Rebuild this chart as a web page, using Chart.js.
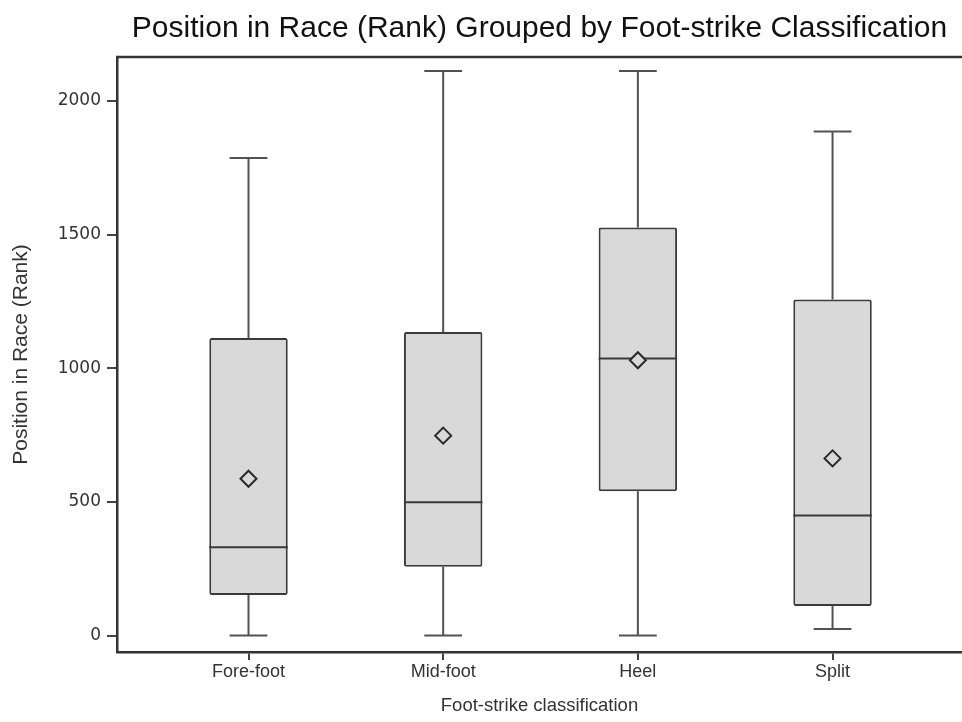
<!DOCTYPE html>
<html>
<head>
<meta charset="utf-8">
<script src="https://cdn.jsdelivr.net/npm/chart.js@4/dist/chart.umd.min.js"></script>
<style>
html,body{margin:0;padding:0;background:#fff;overflow:hidden}
#wrap{width:962px;height:722px;position:relative}
</style>
</head>
<body>
<div id="wrap"><canvas id="c"></canvas></div>
<script>
// ---- data ----
const categories = ['Fore-foot', 'Mid-foot', 'Heel', 'Split'];
const minVals    = [1, 1, 1, 25];
const q1Vals     = [152, 258, 540, 111];
const medianVals = [331, 499, 1037, 449];
const q3Vals     = [1113, 1136, 1526, 1257];
const maxVals    = [1786, 2112, 2112, 1885];
const meanVals   = [587, 748, 1030, 663];
const yTicks     = [0, 500, 1000, 1500, 2000];

const titleText  = 'Position in Race (Rank) Grouped by Foot-strike Classification';
const xTitleText = 'Foot-strike classification';
const yTitleText = 'Position in Race (Rank)';

// ---- styles ----
const BOX_W = 0.403;       // box width in category units
const CAP_HALF = 0.097;    // half width of whisker caps
const BOX_FILL = '#d9d9d9';
const BOX_EDGE = '#3a3a3a';
const WHISK = '#525252';
const AXIS = '#333333';
const SANS = '"Liberation Sans", Arial, sans-serif';

const positions = categories.map((_, i) => i + 1);

function segs(fn) {
  const out = [];
  positions.forEach((x, i) => {
    fn(x, i).forEach(p => out.push(p));
    out.push({x: x, y: null});
  });
  return out;
}

const whiskerData = segs((x, i) => [{x, y: q1Vals[i]}, {x, y: minVals[i]}, {x, y: null}, {x, y: q3Vals[i]}, {x, y: maxVals[i]}]);
const capData = segs((x, i) => [{x: x - CAP_HALF, y: minVals[i]}, {x: x + CAP_HALF, y: minVals[i]}, {x, y: null},
                                {x: x - CAP_HALF, y: maxVals[i]}, {x: x + CAP_HALF, y: maxVals[i]}]);
const medianData = segs((x, i) => [{x: x - BOX_W / 2, y: medianVals[i]}, {x: x + BOX_W / 2, y: medianVals[i]}]);

const frameTop = {
  id: 'frameTop',
  afterDraw(chart) {
    const {ctx, chartArea: a} = chart;
    ctx.save();
    ctx.strokeStyle = AXIS;
    ctx.lineWidth = 2.5;
    ctx.beginPath();
    ctx.moveTo(a.left - 1, a.top);
    ctx.lineTo(chart.width, a.top);
    ctx.stroke();
    ctx.restore();
  }
};

new Chart(document.getElementById('c'), {
  type: 'bar',
  data: {
    datasets: [
      {
        type: 'line', label: 'whiskers', data: whiskerData,
        borderColor: WHISK, borderWidth: 2, pointRadius: 0, spanGaps: false, order: 4
      },
      {
        type: 'line', label: 'caps', data: capData,
        borderColor: WHISK, borderWidth: 2, pointRadius: 0, spanGaps: false, order: 4
      },
      {
        type: 'bar', label: 'box',
        data: positions.map((x, i) => ({x, y: [q1Vals[i], q3Vals[i]]})),
        backgroundColor: BOX_FILL, borderColor: BOX_EDGE, borderWidth: 2,
        borderSkipped: false, borderRadius: 2,
        barPercentage: BOX_W, categoryPercentage: 1, grouped: false, order: 2
      },
      {
        type: 'line', label: 'median', data: medianData,
        borderColor: BOX_EDGE, borderWidth: 2, pointRadius: 0, spanGaps: false, order: 1
      },
      {
        type: 'line', label: 'mean',
        data: positions.map((x, i) => ({x, y: meanVals[i]})),
        showLine: false, pointStyle: 'rectRot', pointRadius: 8,
        pointBackgroundColor: BOX_FILL, pointBorderColor: '#2a2a2a', pointBorderWidth: 2, order: 0
      }
    ]
  },
  options: {
    responsive: true,
    maintainAspectRatio: false,
    devicePixelRatio: 1,
    animation: false,
    events: [],
    layout: {padding: 0, autoPadding: false},
    plugins: {
      legend: {display: false},
      tooltip: {enabled: false},
      title: {
        display: true, text: titleText, fullSize: false,
        color: '#111', font: {family: SANS, size: 30, weight: 'normal', lineHeight: 1.2},
        padding: {top: 11, bottom: 10}
      }
    },
    scales: {
      x: {
        type: 'linear', min: 0.3245, max: 4.665, offset: false,
        afterBuildTicks: s => { s.ticks = positions.map(v => ({value: v})); },
        afterFit: s => { s.height = 70; s.paddingLeft = 0; s.paddingRight = 0; },
        ticks: {
          callback: (v, i) => categories[i],
          color: '#333', font: {family: SANS, size: 18}, padding: 1, maxRotation: 0, autoSkip: false
        },
        grid: {offset: false, drawOnChartArea: false, drawTicks: true, tickLength: 8, color: '#444', lineWidth: 2},
        border: {display: true, color: AXIS, width: 2.5},
        title: {
          display: true, text: xTitleText, color: '#333',
          font: {family: SANS, size: 18.5, lineHeight: 1.2}, padding: {top: 0, bottom: 5}
        }
      },
      y: {
        type: 'linear', min: -61, max: 2164,
        afterBuildTicks: s => { s.ticks = yTicks.map(v => ({value: v})); },
        afterFit: s => { s.width = 117; },
        ticks: {
          callback: v => String(v),
          color: '#333', font: {family: '"DejaVu Sans", sans-serif', size: 17}, padding: 6
        },
        grid: {drawOnChartArea: false, drawTicks: true, tickLength: 10, color: '#444', lineWidth: 2},
        border: {display: true, color: AXIS, width: 2.5},
        title: {
          display: true, text: yTitleText, color: '#333',
          font: {family: SANS, size: 21, lineHeight: 1.2}, padding: {top: 9, bottom: 0}
        }
      }
    }
  },
  plugins: [frameTop]
});
</script>
</body>
</html>
